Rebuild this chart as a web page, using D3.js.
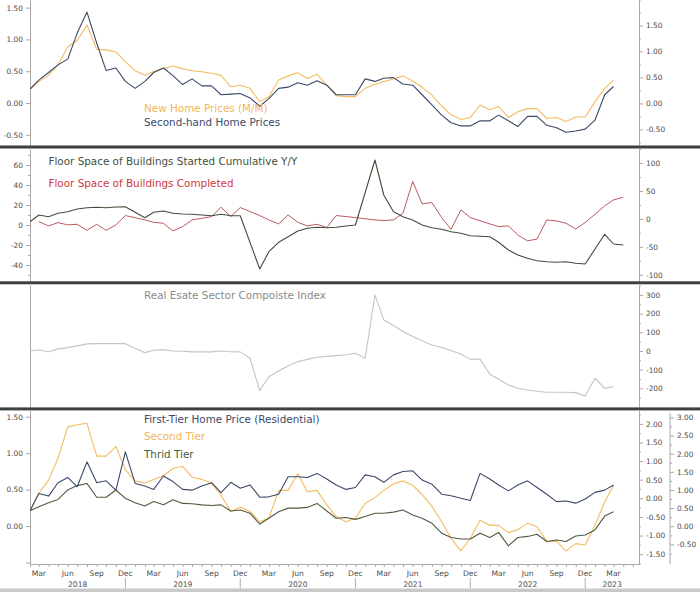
<!DOCTYPE html>
<html><head><meta charset="utf-8">
<script src="https://cdn.jsdelivr.net/npm/d3@7"></script>
<style>
body{margin:0;background:#fff;}
svg{display:block;}
text{font-family:"DejaVu Sans",sans-serif;}
</style>
</head><body>
<svg id="c" width="700" height="592"></svg>
<script>
// ---------- data (monthly, index 0 = Feb 2018) ----------
const startMonth = "2018-02";
const monthLabels = ["Mar","Jun","Sep","Dec"];
const years = ["2018","2019","2020","2021","2022","2023"];

// Panel 1
const newHomePrices = [0.27,0.42,0.54,0.74,1.09,1.21,1.51,1.04,1.03,0.99,0.80,0.63,0.54,0.62,0.67,0.72,0.67,0.63,0.61,0.58,0.54,0.32,0.35,0.29,0.03,0.13,0.45,0.53,0.59,0.48,0.56,0.35,0.15,0.13,0.13,0.29,0.37,0.42,0.47,0.53,0.43,0.31,0.16,-0.05,-0.22,-0.31,-0.27,-0.03,-0.12,-0.06,-0.27,-0.16,-0.10,-0.10,-0.29,-0.27,-0.35,-0.26,-0.26,0.03,0.29,0.45];
const secondHandPrices = [0.22,0.36,0.48,0.60,0.69,1.10,1.43,0.94,0.51,0.55,0.34,0.23,0.34,0.48,0.55,0.43,0.29,0.38,0.27,0.27,0.13,0.14,0.15,0.08,-0.05,0.07,0.23,0.25,0.32,0.28,0.35,0.28,0.13,0.13,0.13,0.38,0.34,0.39,0.40,0.30,0.28,0.13,-0.03,-0.19,-0.31,-0.36,-0.36,-0.28,-0.28,-0.19,-0.28,-0.37,-0.21,-0.21,-0.35,-0.39,-0.46,-0.44,-0.41,-0.27,0.13,0.26];

// Panel 2 (runs to Apr 2023; January not reported)
const floorStarted = [3.3,10,8.3,11.7,13.3,16,17.3,17.7,17.3,18,18.3,null,7.3,12.7,14,11.7,11,10.7,10,9.3,10.7,9.3,9.3,null,-44,-26.7,-17.3,-11.7,-6,-3.3,-2.3,-2.7,-2.3,-1,0,null,65,30,13.3,8.3,5,0,-2.7,-4.3,-6.7,-8.3,-10.7,null,-11.7,-17.3,-25,-30,-33.3,-35.7,-36.7,-37.3,-36.7,-38.3,-39,null,-9.3,-19,-20];
const floorCompleted = [null,-4.8,-12.5,-6.6,-10.7,-9.6,-20.3,-9.6,-20.3,-10.7,6.0,null,-1.8,-6.0,-7.8,-21.5,-13.7,-1.8,1.2,4.2,20.9,4.2,20.3,null,6.0,-1.8,-9.0,7.2,-6.0,-12.5,-9.6,-15.5,6.0,4.2,2.4,null,-1.8,-3.0,-1.8,10.1,66.9,26.9,29.3,2.4,-18.5,16.1,2.4,null,-9.0,-13.7,-12.5,-28.7,-39.4,-35.8,-1.8,-3.6,-7.8,-17.9,-6.6,null,23.3,34,38.8];

// Panel 3
const compositeIndex = [0,5,-4,11,18,27,38,39,39,39,39,14,-9,4,7,0,-2,-5,-5,-5,0,-4,-5,-39,-213,-138,-107,-80,-57,-45,-34,-29,-25,-20,-12.5,-39,300,166,136,104,77,55,32,18,2,-16,-45,-43,-125,-152,-182,-200,-209,-216,-221,-221,-221,-223,-241,-146,-200,-191];

// Panel 4
const firstTier = [-0.33,0.13,0.06,0.42,0.56,0.31,0.98,0.42,0.47,0.22,1.25,0.40,0.33,0.24,0.60,0.45,0.24,0.22,0.33,0.42,0.15,0.43,0.27,0.36,0.03,0.04,0.11,0.58,0.58,0.56,0.67,0.52,0.36,0.24,0.29,0.63,0.58,0.43,0.63,0.72,0.74,0.49,0.38,0.11,0.07,0.00,-0.06,0.67,0.52,0.36,0.20,0.36,0.47,0.29,0.11,-0.09,-0.07,-0.13,-0.02,0.16,0.22,0.36];
const secondTier = [0.21,0.45,0.63,0.93,1.36,1.39,1.41,0.96,0.96,1.09,0.77,0.62,0.59,0.64,0.69,0.79,0.82,0.67,0.64,0.59,0.42,0.20,0.26,0.20,0.06,0.11,0.49,0.49,0.72,0.47,0.49,0.29,0.13,0.06,0.11,0.31,0.39,0.49,0.58,0.62,0.56,0.43,0.27,0.06,-0.17,-0.34,-0.17,0.08,0.01,0.01,-0.09,-0.05,0.04,-0.01,-0.21,-0.21,-0.34,-0.24,-0.26,0.01,0.33,0.56];
const thirdTier = [0.43,0.54,0.65,0.74,1.00,1.12,1.18,0.80,0.80,1.00,0.77,0.65,0.56,0.68,0.59,0.73,0.63,0.62,0.59,0.57,0.59,0.42,0.45,0.36,0.06,0.22,0.40,0.50,0.50,0.52,0.63,0.42,0.22,0.24,0.19,0.27,0.36,0.36,0.39,0.45,0.31,0.22,0.08,-0.19,-0.31,-0.35,-0.35,-0.19,-0.31,-0.17,-0.54,-0.31,-0.28,-0.22,-0.42,-0.38,-0.42,-0.27,-0.24,-0.10,0.28,0.40];

// tick values
const p1Ticks = [-0.5,0,0.5,1,1.5];
const p2LeftTicks = [-40,-20,0,20,40,60];
const p2RightTicks = [-100,-50,0,50,100];
const p3Ticks = [-200,-100,0,100,200,300];
const p4LeftTicks = [0,0.5,1,1.5];
const p4Right1Ticks = [-1.5,-1,-0.5,0,0.5,1,1.5,2];
const p4Right2Ticks = [-0.5,0,0.5,1,1.5,2,2.5,3];

// ---------- layout ----------
const svg = d3.select("#c");
const XL = 30, XR = 639;
const t0 = d3.utcParse("%Y-%m")(startMonth);
const dateAt = i => d3.utcMonth.offset(t0, i);
const x = d3.scaleUtc().domain([t0, new Date(Date.UTC(2023,4,21))]).range([XL, XR]);

const P = [
  {top:0, bot:145},
  {top:149, bot:281},
  {top:285, bot:407},
  {top:410.5, bot:564}
];
const y1L = d3.scaleLinear().domain([-0.66,1.62]).range([P[0].bot,P[0].top]);
const y1R = d3.scaleLinear().domain([-0.80,1.99]).range([P[0].bot,P[0].top]);
const y2L = d3.scaleLinear().domain([-56,76]).range([P[1].bot,P[1].top]);
const y2R = d3.scaleLinear().domain([-111,125]).range([P[1].bot,P[1].top]);
const y3R = d3.scaleLinear().domain([-300,353]).range([P[2].bot,P[2].top]);
const y4L = d3.scaleLinear().domain([-0.52,1.585]).range([P[3].bot,P[3].top]);
const y4R1 = d3.scaleLinear().domain([-1.765,2.36]).range([P[3].bot,P[3].top]);
const y4R2 = d3.scaleLinear().domain([-1.04,3.19]).range([P[3].bot,P[3].top]);

const fmt2 = v => (v<0?"-":"") + Math.abs(v).toFixed(2);
const fmt0 = v => (v<0?"-":"") + Math.abs(v).toFixed(0);
const TXT = "#4d4d4d", AX = "#a8a8a8";

// clip paths
const defs = svg.append("defs");
P.forEach((p,k)=>{
  defs.append("clipPath").attr("id","cp"+k).append("rect")
    .attr("x",XL).attr("y",p.top).attr("width",XR-XL).attr("height",p.bot-p.top);
});

function styleAxis(g){
  g.selectAll("path.domain").attr("stroke",AX).attr("stroke-width",1);
  g.selectAll(".tick line").attr("stroke",AX);
  g.selectAll(".tick text").attr("fill",TXT).style("font-size","7.4px").style("font-family","DejaVu Sans");
}
function yAxis(scale, side, xpos, ticks, fmt, minor, showLabels=true, extent){
  const ax = (side==="left"?d3.axisLeft(scale):d3.axisRight(scale))
    .tickValues(ticks).tickSize(4).tickSizeOuter(0).tickPadding(3)
    .tickFormat(showLabels?fmt:()=>"");
  const g = svg.append("g").attr("transform",`translate(${xpos},0)`).call(ax);
  if(minor){
    const ag = (side==="left"?d3.axisLeft(scale):d3.axisRight(scale))
      .tickValues(minor).tickSize(2).tickSizeOuter(0).tickFormat(()=>"");
    const m = svg.append("g").attr("transform",`translate(${xpos},0)`).call(ag);
    m.select("path.domain").remove();
    styleAxis(m);
  }
  if(extent){ g.select("path.domain").attr("d",`M0,${extent[0]}V${extent[1]}`); }
  styleAxis(g);
  return g;
}
const range = (a,b,s)=>d3.range(a,b+s/2,s);

// Panel 1 axes
yAxis(y1L,"left",XL,p1Ticks,fmt2,null);
yAxis(y1R,"right",XR,p1Ticks,fmt2,range(-0.75,2.0,0.25).filter(v=>!p1Ticks.includes(v)));
// Panel 2 axes
yAxis(y2L,"left",XL,p2LeftTicks,fmt0,range(-50,70,10).filter(v=>!p2LeftTicks.includes(v)));
yAxis(y2R,"right",XR,p2RightTicks,fmt0,range(-100,125,25).filter(v=>!p2RightTicks.includes(v)));
// Panel 3 axes
yAxis(y3R,"left",XL,[],fmt0,null,false);
yAxis(y3R,"right",XR,p3Ticks,fmt0,range(-250,350,50).filter(v=>!p3Ticks.includes(v)));
// Panel 4 axes
yAxis(y4L,"left",XL,[-0.5,...p4LeftTicks],v=>v<0?"":fmt2(v),null);
yAxis(y4R1,"right",XR,p4Right1Ticks,fmt2,range(-1.75,2.25,0.25).filter(v=>!p4Right1Ticks.includes(v)));
yAxis(y4R2,"right",670,p4Right2Ticks,fmt2,range(-0.75,3.0,0.25).filter(v=>!p4Right2Ticks.includes(v)),true,[413,564]);

// x axis
const monthDates = d3.range(0,64).map(dateAt);
const xa = svg.append("g").attr("transform",`translate(0,${P[3].bot})`)
  .call(d3.axisBottom(x).tickValues(monthDates).tickSize(3).tickSizeOuter(0).tickFormat(()=>""));
styleAxis(xa);
const monthName = d3.utcFormat("%b");
monthDates.filter(d=>monthLabels.includes(monthName(d)) && d <= dateAt(61)).forEach(d=>{
  svg.append("text").attr("x",x(d)).attr("y",576).attr("text-anchor","middle")
    .attr("fill",TXT).style("font-size","7.6px").text(monthName(d));
});
const decs = monthDates.filter(d=>monthName(d)==="Dec");
decs.forEach(d=>{
  svg.append("line").attr("x1",x(d)).attr("x2",x(d)).attr("y1",578).attr("y2",589)
    .attr("stroke","#b0b0b0").attr("stroke-width",1);
});
const bounds = [XL, ...decs.map(d=>x(d)), XR];
years.forEach((yr,k)=>{
  svg.append("text").attr("x",(bounds[k]+bounds[k+1])/2).attr("y",586.5).attr("text-anchor","middle")
    .attr("fill",TXT).style("font-size","7.6px").text(yr);
});

// separators & bottom strip
[[145.5,3],[281.3,3],[407.4,3]].forEach(([yy,h])=>{
  svg.append("rect").attr("x",0).attr("y",yy).attr("width",700).attr("height",h).attr("fill","#3f3f3f");
});
svg.append("rect").attr("x",0).attr("y",588.5).attr("width",700).attr("height",4).attr("fill","#c9c9c9");

// lines
function drawLine(data, yScale, color, clip, w=1.1){
  const pts = data.map((v,i)=>({d:dateAt(i),v})).filter(p=>p.v!==null);
  svg.append("path").datum(pts)
    .attr("clip-path",`url(#cp${clip})`)
    .attr("fill","none").attr("stroke",color).attr("stroke-width",w).attr("stroke-linejoin","round")
    .attr("d",d3.line().x(p=>x(p.d)).y(p=>yScale(p.v)));
}
const ORANGE="#f4bb62", NAVY="#3b4869", OLIVE="#434d3a", RED="#bb5a60", GRAY="#c4c4c4", GREEN="#4e5c3e";
drawLine(newHomePrices, y1R, ORANGE, 0);
drawLine(secondHandPrices, y1L, NAVY, 0);
drawLine(floorCompleted, y2R, RED, 1, 1);
drawLine(floorStarted, y2L, OLIVE, 1);
drawLine(compositeIndex, y3R, GRAY, 2);
drawLine(secondTier, y4L, ORANGE, 3);
drawLine(thirdTier, y4R2, GREEN, 3);
drawLine(firstTier, y4R1, NAVY, 3);

// legends
function label(txt, xx, yy, color){
  svg.append("text").attr("x",xx).attr("y",yy).attr("fill",color).style("font-size","10.4px").text(txt);
}
label("New Home Prices (M/M)",144,112,"#f2b656");
label("Second-hand Home Prices",144,126,"#3d4a6b");
label("Floor Space of Buildings Started Cumulative Y/Y",48.5,165,"#44503b");
label("Floor Space of Buildings Completed",48.5,186.5,"#d2373e");
label("Real Esate Sector Compoiste Index",144,299,"#8a8a8a");
label("First-Tier Home Price (Residential)",144,423,"#3d4a6b");
label("Second Tier",144,440,"#f2b656");
label("Thrid Tier",144,457.5,"#4b5a3b");
</script>
</body></html>
